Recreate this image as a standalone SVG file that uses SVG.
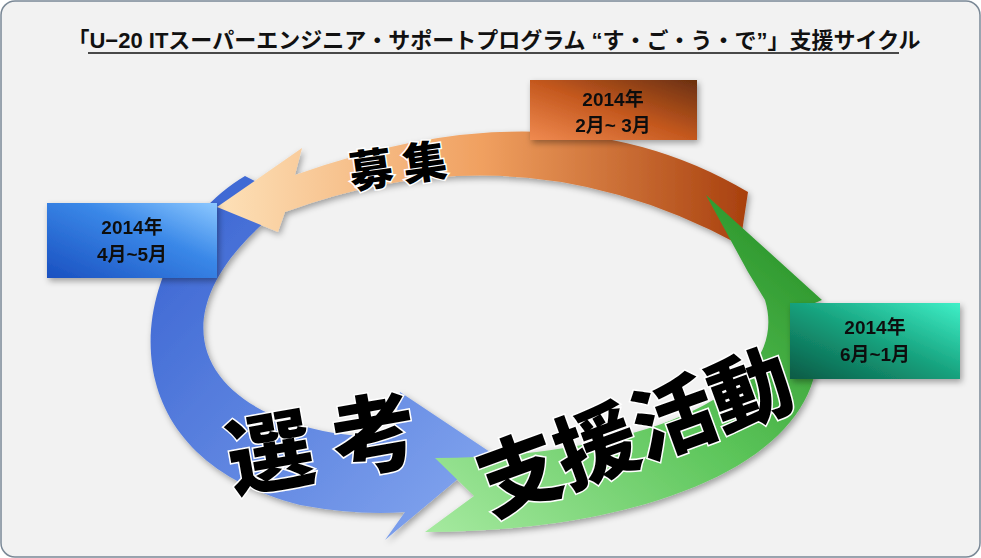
<svg xmlns="http://www.w3.org/2000/svg" width="981" height="558" viewBox="0 0 981 558">
<defs>
<style>
.t{font-family:"Liberation Sans","Noto Sans CJK JP",sans-serif;font-weight:bold;fill:#111;text-anchor:middle}
.bx{font-size:19px}
.big{font-family:"Noto Sans CJK JP",sans-serif;font-weight:900;fill:#000;stroke:#fff;stroke-width:3;paint-order:stroke;text-anchor:middle}
</style>
<linearGradient id="gO" x1="0" y1="0" x2="1" y2="0"><stop offset="0" stop-color="#fde1b8"/><stop offset="0.5" stop-color="#f0a060"/><stop offset="1" stop-color="#a8400e"/></linearGradient>
<linearGradient id="gB" x1="0" y1="0" x2="1" y2="1"><stop offset="0" stop-color="#3560d0"/><stop offset="1" stop-color="#86a8f0"/></linearGradient>
<linearGradient id="gG" x1="0" y1="1" x2="1" y2="0"><stop offset="0" stop-color="#a6eaa0"/><stop offset="0.5" stop-color="#5cc55a"/><stop offset="1" stop-color="#208a20"/></linearGradient>
<linearGradient id="bO" x1="0" y1="1" x2="1" y2="0"><stop offset="0" stop-color="#f08a50"/><stop offset="0.5" stop-color="#c4581e"/><stop offset="1" stop-color="#6a3010"/></linearGradient>
<linearGradient id="bB" x1="0" y1="1" x2="1" y2="0"><stop offset="0" stop-color="#1a50c0"/><stop offset="0.6" stop-color="#3a88e8"/><stop offset="1" stop-color="#8cc8ff"/></linearGradient>
<linearGradient id="bT" x1="1" y1="0" x2="0" y2="1"><stop offset="0" stop-color="#3ff0c8"/><stop offset="0.5" stop-color="#16a07c"/><stop offset="1" stop-color="#0a5a45"/></linearGradient>
<filter id="sh" x="-10%" y="-10%" width="130%" height="130%"><feDropShadow dx="2" dy="3" stdDeviation="3" flood-opacity="0.35"/></filter>
</defs>
<rect x="1" y="1" width="979" height="556" rx="14" fill="#f2f2f2" stroke="#7a8896" stroke-width="1.5"/>
<g id="title">
<text class="t" x="494" y="48" font-size="22">「U−20 ITスーパーエンジニア・サポートプログラム “す・ご・う・で”」支援サイクル</text>
<line x1="88" y1="53" x2="899" y2="53" stroke="#111" stroke-width="1.5"/>
</g>
<g id="connectors" filter="url(#sh)">
<path id="arrow-blue" d="M245,176 C135,240 85,450 300,505 Q360,516 405,512 L385,540 L490,452 L400,392 L393,436 Q330,440 270,414 C185,375 170,290 292,200 Z" fill="url(#gB)"/>
<path id="arrow-orange" d="M748,192 Q560,80 295,175 L302,148 L217,207 L278,232 L285,212 Q520,125 740,245 Z" fill="url(#gO)"/>
<path id="arrow-green" d="M425,532 C660,532 860,450 810,305 L822,300 L706,195 L748,272 L765,300 C795,400 620,458 435,458 L474,496 Z" fill="url(#gG)"/>
</g>
<g id="box-recruit" filter="url(#sh)">
<rect x="530" y="80" width="167" height="60" fill="url(#bO)"/>
<text class="t bx" x="613" y="106">2014年</text>
<text class="t bx" x="613" y="132">2月~ 3月</text>
</g>
<g id="box-select" filter="url(#sh)">
<rect x="47" y="203" width="170" height="75" fill="url(#bB)"/>
<text class="t bx" x="132" y="234">2014年</text>
<text class="t bx" x="132" y="261">4月~5月</text>
</g>
<g id="box-support" filter="url(#sh)">
<rect x="790" y="303" width="170" height="76" fill="url(#bT)"/>
<text class="t bx" x="875" y="334">2014年</text>
<text class="t bx" x="875" y="361">6月~1月</text>
</g>
<g id="label-recruit"><text class="big" font-size="44" transform="translate(400,182) rotate(-8)">募 集</text></g>
<g id="label-select"><text class="big" font-size="86" transform="translate(328,475) rotate(-10)">選 考</text></g>
<g id="label-support"><text class="big" font-size="82" transform="translate(645,460) rotate(-20)">支援活動</text></g>
</svg>
